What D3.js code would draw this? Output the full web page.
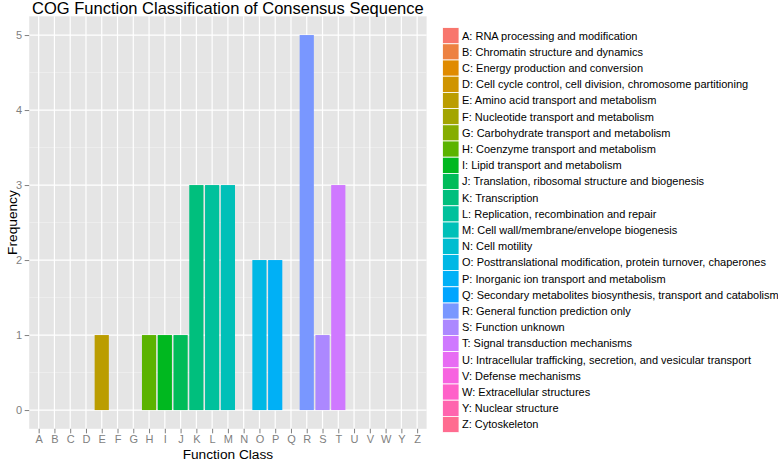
<!DOCTYPE html>
<html>
<head>
<meta charset="utf-8">
<script src="https://cdn.jsdelivr.net/npm/d3@7"></script>
<style>
  html, body { margin: 0; padding: 0; background: #fff; }
  svg { display: block; font-family: "Liberation Sans", Arial, Helvetica, sans-serif; }
</style>
</head>
<body>
<svg id="chart" width="778" height="462"></svg>
<script>
const categories = ["A","B","C","D","E","F","G","H","I","J","K","L","M","N","O","P","Q","R","S","T","U","V","W","Y","Z"];
const frequencies = [0,0,0,0,1,0,0,1,1,1,3,3,3,0,2,2,0,5,1,3,0,0,0,0,0];
const descriptions = [
  "A: RNA processing and modification",
  "B: Chromatin structure and dynamics",
  "C: Energy production and conversion",
  "D: Cell cycle control, cell division, chromosome partitioning",
  "E: Amino acid transport and metabolism",
  "F: Nucleotide transport and metabolism",
  "G: Carbohydrate transport and metabolism",
  "H: Coenzyme transport and metabolism",
  "I: Lipid transport and metabolism",
  "J: Translation, ribosomal structure and biogenesis",
  "K: Transcription",
  "L: Replication, recombination and repair",
  "M: Cell wall/membrane/envelope biogenesis",
  "N: Cell motility",
  "O: Posttranslational modification, protein turnover, chaperones",
  "P: Inorganic ion transport and metabolism",
  "Q: Secondary metabolites biosynthesis, transport and catabolism",
  "R: General function prediction only",
  "S: Function unknown",
  "T: Signal transduction mechanisms",
  "U: Intracellular trafficking, secretion, and vesicular transport",
  "V: Defense mechanisms",
  "W: Extracellular structures",
  "Y: Nuclear structure",
  "Z: Cytoskeleton"
];
const yTicks = [0,1,2,3,4,5];
const titleText = "COG Function Classification of Consensus Sequence";
const xTitle = "Function Class";
const yTitle = "Frequency";

// ggplot2-style hue palette (polar LUV)
function hclLuv(h, c, l) {
  const hr = h * Math.PI / 180;
  const U = c * Math.cos(hr), V = c * Math.sin(hr);
  const Xn = 95.047, Yn = 100, Zn = 108.883;
  const Y = Yn * Math.pow((l + 16) / 116, 3);
  const den = Xn + 15 * Yn + 3 * Zn;
  const un = 4 * Xn / den, vn = 9 * Yn / den;
  const u = U / (13 * l) + un, v = V / (13 * l) + vn;
  const X = 9 * Y * u / (4 * v);
  const Z = -X / 3 - 5 * Y + 3 * Y / v;
  const x = X / 100, y = Y / 100, z = Z / 100;
  let r = 3.240479 * x - 1.537150 * y - 0.498535 * z;
  let g = -0.969256 * x + 1.875992 * y + 0.041556 * z;
  let b = 0.055648 * x - 0.204043 * y + 1.057311 * z;
  const gam = t => { t = t <= 0.0031308 ? 12.92 * t : 1.055 * Math.pow(t, 1 / 2.4) - 0.055; return Math.max(0, Math.min(1, t)); };
  return d3.rgb(gam(r) * 255, gam(g) * 255, gam(b) * 255).formatHex();
}
const n = categories.length;
const palette = categories.map((_, i) => hclLuv(15 + i * 360 / n, 100, 65));
const color = d3.scaleOrdinal().domain(categories).range(palette);

const svg = d3.select("#chart");
const panel = { left: 29.2, right: 426.6, top: 16.3, bottom: 428.8 };

const step = (panel.right - panel.left) / (n - 1 + 1.2);
const x = d3.scalePoint().domain(categories)
  .range([panel.left + 0.6 * step, panel.right - 0.6 * step]);
const y = d3.scaleLinear().domain([-0.25, 5.25]).range([panel.bottom, panel.top]);

// panel background
svg.append("rect").attr("x", panel.left).attr("y", panel.top)
  .attr("width", panel.right - panel.left).attr("height", panel.bottom - panel.top)
  .attr("fill", "#E5E5E5");

// minor grid
const minor = d3.range(0, 5).map(v => v + 0.5);
svg.append("g").selectAll("line").data(minor).join("line")
  .attr("x1", panel.left).attr("x2", panel.right)
  .attr("y1", d => y(d)).attr("y2", d => y(d))
  .attr("stroke", "#F2F2F2").attr("stroke-width", 0.6);
// major grid
svg.append("g").selectAll("line").data(yTicks).join("line")
  .attr("x1", panel.left).attr("x2", panel.right)
  .attr("y1", d => y(d)).attr("y2", d => y(d))
  .attr("stroke", "#FFFFFF").attr("stroke-width", 1.2);
svg.append("g").selectAll("line").data(categories).join("line")
  .attr("y1", panel.top).attr("y2", panel.bottom)
  .attr("x1", d => x(d)).attr("x2", d => x(d))
  .attr("stroke", "#FFFFFF").attr("stroke-width", 1.2);

// bars
const bw = step * 0.9;
const data = categories.map((c, i) => ({ c, v: frequencies[i] }));
svg.append("g").selectAll("rect").data(data.filter(d => d.v > 0)).join("rect")
  .attr("x", d => x(d.c) - bw / 2)
  .attr("width", bw)
  .attr("y", d => y(d.v))
  .attr("height", d => y(0) - y(d.v))
  .attr("fill", d => color(d.c));

// axes
const xAxis = d3.axisBottom(x).tickSize(4.5).tickPadding(2);
const gx = svg.append("g").attr("transform", `translate(0,${panel.bottom})`).call(xAxis);
gx.select(".domain").remove();
gx.selectAll("line").attr("stroke", "#7F7F7F");
gx.selectAll("text").attr("fill", "#7F7F7F").attr("font-size", 11)
  .attr("font-family", "Liberation Sans, Arial, sans-serif");

const yAxis = d3.axisLeft(y).tickValues(yTicks).tickFormat(d3.format("d")).tickSize(4.5).tickPadding(2.5);
const gy = svg.append("g").attr("transform", `translate(${panel.left},0)`).call(yAxis);
gy.select(".domain").remove();
gy.selectAll("line").attr("stroke", "#7F7F7F");
gy.selectAll("text").attr("fill", "#7F7F7F").attr("font-size", 11)
  .attr("font-family", "Liberation Sans, Arial, sans-serif");

// titles
const cx = (panel.left + panel.right) / 2;
svg.append("text").attr("x", cx).attr("y", 13.5).attr("text-anchor", "middle")
  .attr("font-size", 16.5).attr("fill", "#000").text(titleText);
svg.append("text").attr("x", cx).attr("y", 459).attr("text-anchor", "middle")
  .attr("font-size", 13.7).attr("fill", "#000").text(xTitle);
svg.append("text").attr("transform", `translate(17,${(panel.top + panel.bottom) / 2}) rotate(-90)`)
  .attr("text-anchor", "middle").attr("font-size", 13.7).attr("fill", "#000").text(yTitle);

// legend
const legTop = 27.6, keyH = 16.2, keyX = 442.5, keyW = 16.5;
const leg = svg.append("g");
const rows = leg.selectAll("g").data(categories).join("g")
  .attr("transform", (d, i) => `translate(0,${legTop + i * keyH})`);
rows.append("rect").attr("x", keyX).attr("y", 0).attr("width", keyW).attr("height", keyH)
  .attr("fill", d => color(d)).attr("stroke", "#FFFFFF").attr("stroke-width", 0.8);
rows.append("text").attr("x", 462).attr("y", keyH / 2 + 3.9)
  .attr("font-size", 11).attr("fill", "#000").text((d, i) => descriptions[i]);
</script>
</body>
</html>
